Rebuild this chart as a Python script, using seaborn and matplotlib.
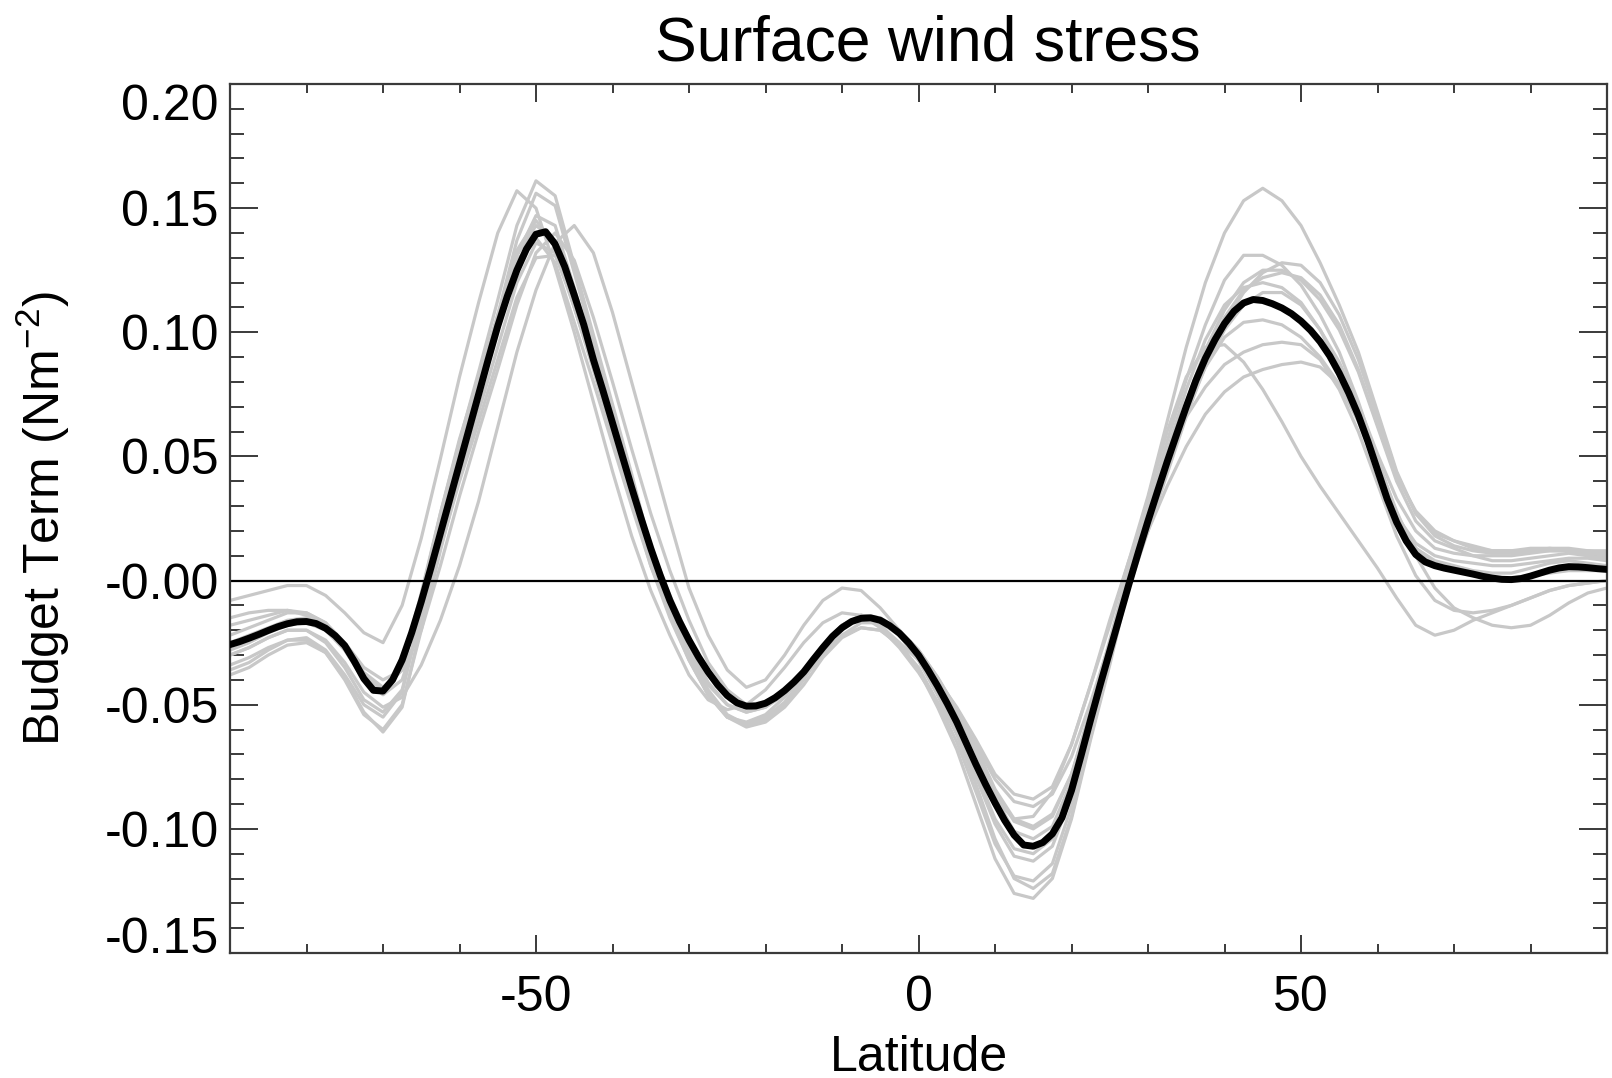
import numpy as np
import pandas as pd
import matplotlib
matplotlib.use("Agg")
import matplotlib.pyplot as plt
import seaborn as sns
from matplotlib.ticker import FixedLocator, FixedFormatter, MultipleLocator

# Latitude grids (degrees)
mean_latitude = np.arange(-90.0, 90.01, 1.25)
member_latitude = np.arange(-90.0, 90.01, 2.5)

# Ensemble-mean zonal-mean surface wind stress budget term (N m^-2)
ensemble_mean = [
    -.0258, -.0246, -.0232, -.0217, -.0201, -.0186, -.0174, -.0166, -.0165, -.0173,
    -.0192, -.0222, -.0262, -.0325, -.0395, -.0442, -.0445, -.0400, -.0320, -.0210,
    -.0085, .0050, .0190, .0330, .0470, .0610, .0750, .0890, .1025, .1145,
    .1250, .1335, .1395, .1405, .1355, .1265, .1150, .1030, .0890, .0765,
    .0635, .0505, .0375, .0250, .0130, .0020, -.0080, -.0165, -.0240, -.0308,
    -.0368, -.0420, -.0463, -.0492, -.0506, -.0505, -.0494, -.0472, -.0443, -.0408,
    -.0368, -.0318, -.0270, -.0225, -.0190, -.0165, -.0152, -.0150, -.0160, -.0182,
    -.0212, -.0252, -.0300, -.0360, -.0425, -.0495, -.0570, -.0655, -.0740, -.0820,
    -.0895, -.0965, -.1025, -.1065, -.1070, -.1055, -.1020, -.0955, -.0845, -.0705,
    -.0560, -.0420, -.0285, -.0150, -.0015, .0115, .0240, .0360, .0478, .0590,
    .0700, .0805, .0895, .0970, .1035, .1085, .1118, .1132, .1128, .1115,
    .1098, .1075, .1045, .1008, .0962, .0905, .0835, .0755, .0665, .0560,
    .0445, .0330, .0235, .0160, .0105, .0075, .0060, .0050, .0042, .0034,
    .0026, .0017, .0010, .0005, .0004, .0008, .0018, .0030, .0042, .0051,
    .0056, .0055, .0052, .0048, .0045,
]

# Individual ensemble members
member_01 = [
    -.036, -.033, -.028, -.024, -.023, -.028, -.038, -.050, -.055, -.045, -.012, .024,
    .056, .084, .113, .143, .161, .155, .127, .099, .071, .043, .013, -.010,
    -.029, -.044, -.054, -.058, -.056, -.050, -.040, -.028, -.019, -.014, -.016, -.022,
    -.032, -.046, -.062, -.082, -.104, -.120, -.124, -.118, -.095, -.063, -.033, .001,
    .029, .056, .081, .103, .121, .131, .131, .127, .119, .107, .092, .072,
    .049, .027, .013, .008, .006, .004, .003, .003, .005, .007, .008, .007, .006,
]
member_02 = [
    -.008, -.006, -.004, -.002, -.002, -.006, -.013, -.021, -.025, -.010, .017, .049,
    .082, .112, .140, .157, .150, .126, .100, .072, .044, .018, -.004, -.022,
    -.038, -.048, -.052, -.050, -.044, -.035, -.025, -.017, -.013, -.014, -.019, -.027,
    -.037, -.049, -.061, -.075, -.088, -.096, -.095, -.085, -.066, -.042, -.016, .008,
    .034, .064, .094, .120, .140, .153, .158, .153, .143, .128, .111, .092,
    .068, .044, .027, .018, .014, .012, .011, .011, .012, .012, .012, .011, .010,
]
member_03 = [
    -.030, -.027, -.023, -.020, -.020, -.025, -.035, -.048, -.053, -.044, -.014, .019,
    .050, .078, .107, .137, .156, .151, .124, .096, .068, .040, .011, -.012,
    -.031, -.046, -.055, -.057, -.054, -.047, -.037, -.026, -.018, -.015, -.018, -.025,
    -.036, -.051, -.068, -.090, -.112, -.126, -.128, -.120, -.096, -.064, -.034, -.002,
    .024, .048, .072, .093, .109, .120, .125, .125, .121, .113, .101, .084,
    .062, .040, .024, .016, .013, .010, .008, .008, .009, .010, .011, .010, .009,
]
member_04 = [
    -.022, -.019, -.016, -.013, -.013, -.017, -.026, -.038, -.044, -.036, -.008, .024,
    .053, .078, .104, .131, .147, .143, .118, .092, .066, .040, .013, -.008,
    -.026, -.041, -.050, -.053, -.051, -.045, -.036, -.026, -.018, -.014, -.016, -.022,
    -.032, -.046, -.061, -.079, -.098, -.111, -.113, -.107, -.087, -.059, -.031, -.002,
    .022, .046, .070, .090, .106, .117, .122, .124, .122, .115, .103, .085,
    .063, .042, .028, .020, .016, .014, .012, .012, .012, .013, .012, .012, .011,
]
member_05 = [
    -.030, -.027, -.023, -.020, -.020, -.024, -.033, -.045, -.051, -.047, -.034, -.016,
    .006, .032, .062, .092, .117, .136, .143, .132, .108, .080, .052, .024,
    -.003, -.022, -.036, -.043, -.040, -.030, -.018, -.008, -.003, -.004, -.011, -.020,
    -.030, -.040, -.051, -.064, -.078, -.086, -.088, -.083, -.066, -.042, -.018, .008,
    .030, .050, .066, .078, .087, .092, .095, .096, .095, .089, .077, .060,
    .039, .018, .002, -.008, -.012, -.013, -.012, -.010, -.007, -.004, -.002, -.001, .000,
]
member_06 = [
    -.034, -.031, -.027, -.024, -.024, -.029, -.040, -.054, -.060, -.050, -.020, .012,
    .042, .068, .094, .120, .136, .132, .110, .086, .060, .034, .008, -.014,
    -.032, -.046, -.055, -.059, -.057, -.051, -.042, -.031, -.023, -.019, -.020, -.026,
    -.035, -.049, -.065, -.085, -.106, -.119, -.121, -.114, -.091, -.061, -.032, -.001,
    .026, .052, .077, .097, .111, .118, .120, .118, .112, .101, .086, .067,
    .045, .026, .015, .010, .008, .007, .006, .006, .007, .008, .009, .009, .008,
]
member_07 = [
    -.028, -.025, -.021, -.018, -.017, -.020, -.028, -.040, -.046, -.040, -.016, .013,
    .040, .064, .089, .114, .130, .131, .112, .088, .063, .038, .013, -.007,
    -.024, -.038, -.047, -.051, -.049, -.044, -.036, -.026, -.018, -.014, -.015, -.020,
    -.028, -.039, -.052, -.067, -.084, -.096, -.099, -.094, -.078, -.052, -.024, .005,
    .033, .060, .082, .094, .095, .088, .077, .064, .050, .038, .027, .016,
    .005, -.007, -.018, -.022, -.020, -.016, -.013, -.010, -.007, -.004, -.002, -.001, .000,
]
member_08 = [
    -.038, -.035, -.030, -.026, -.025, -.029, -.039, -.053, -.061, -.051, -.018, .018,
    .050, .078, .106, .133, .145, .135, .110, .085, .058, .032, .006, -.015,
    -.032, -.046, -.055, -.058, -.055, -.049, -.039, -.029, -.022, -.019, -.020, -.025,
    -.032, -.042, -.054, -.066, -.080, -.089, -.091, -.086, -.071, -.049, -.025, .000,
    .020, .038, .054, .067, .076, .082, .085, .087, .088, .086, .079, .066,
    .048, .028, .010, -.003, -.011, -.015, -.018, -.019, -.018, -.014, -.009, -.005, -.003,
]
member_09 = [
    -.018, -.016, -.014, -.012, -.013, -.017, -.025, -.035, -.040, -.036, -.020, .006,
    .034, .060, .085, .111, .132, .140, .129, .106, .080, .053, .027, .004,
    -.016, -.033, -.044, -.050, -.050, -.046, -.039, -.030, -.022, -.017, -.017, -.022,
    -.031, -.044, -.059, -.077, -.096, -.108, -.110, -.104, -.085, -.058, -.030, -.002,
    .022, .045, .067, .086, .101, .111, .116, .116, .111, .101, .088, .071,
    .051, .033, .020, .013, .011, .010, .010, .010, .011, .012, .012, .011, .010,
]
member_10 = [
    -.025, -.022, -.019, -.016, -.015, -.018, -.026, -.037, -.043, -.036, -.006, .027,
    .056, .081, .106, .129, .138, .128, .104, .080, .055, .030, .006, -.013,
    -.029, -.042, -.050, -.053, -.051, -.046, -.037, -.027, -.019, -.015, -.016, -.021,
    -.029, -.040, -.053, -.068, -.085, -.097, -.100, -.095, -.078, -.053, -.027, .001,
    .025, .048, .069, .086, .098, .104, .105, .103, .098, .090, .079, .064,
    .045, .026, .013, .007, .004, .002, .001, .001, .002, .003, .004, .004, .004,
]
member_11 = [
    -.015, -.013, -.012, -.012, -.014, -.019, -.028, -.040, -.044, -.034, -.005, .027,
    .057, .082, .107, .131, .143, .137, .114, .090, .065, .040, .014, -.006,
    -.023, -.037, -.046, -.050, -.049, -.044, -.036, -.026, -.018, -.014, -.015, -.020,
    -.028, -.039, -.052, -.069, -.087, -.101, -.104, -.099, -.081, -.055, -.029, -.003,
    .020, .043, .066, .087, .104, .116, .124, .128, .127, .120, .107, .089,
    .066, .043, .027, .019, .016, .013, .012, .012, .013, .013, .013, .012, .012,
]

members = [member_01, member_02, member_03, member_04, member_05, member_06,
           member_07, member_08, member_09, member_10, member_11]

# Axis ticks and labels
x_major_ticks = [-50, 0, 50]
x_tick_labels = ["-50", "0", "50"]
y_major_ticks = [-0.15, -0.10, -0.05, 0.0, 0.05, 0.10, 0.15, 0.20]
y_tick_labels = ["-0.15", "-0.10", "-0.05", "-0.00", "0.05", "0.10", "0.15", "0.20"]

# Long-form tables for seaborn
df_members = pd.concat(
    [pd.DataFrame({"lat": member_latitude, "stress": vals, "member": f"m{i + 1:02d}"})
     for i, vals in enumerate(members)],
    ignore_index=True,
)
df_mean = pd.DataFrame({"lat": mean_latitude, "stress": ensemble_mean})

sns.set_style("ticks")
plt.rcParams["font.family"] = ["Liberation Sans", "DejaVu Sans"]
plt.rcParams["mathtext.fontset"] = "custom"
plt.rcParams["mathtext.rm"] = "Liberation Sans"
plt.rcParams["mathtext.it"] = "Liberation Sans:italic"
plt.rcParams["axes.unicode_minus"] = False
plt.rcParams["text.color"] = "black"
plt.rcParams["axes.labelcolor"] = "black"

fig = plt.figure(figsize=(16.12, 10.78), dpi=100)
ax = fig.add_axes([230 / 1612, 1 - 953 / 1078, 1377 / 1612, 869 / 1078])

sns.lineplot(data=df_members, x="lat", y="stress", units="member", estimator=None,
             color="#c8c8c8", linewidth=2.3, legend=False, ax=ax, zorder=2)
ax.axhline(0.0, color="black", linewidth=1.6, zorder=2.5)
sns.lineplot(data=df_mean, x="lat", y="stress", color="black", linewidth=5.0,
             ax=ax, zorder=3)

ax.set_xlim(-90, 90)
ax.set_ylim(-0.15, 0.20)

ax.xaxis.set_major_locator(FixedLocator(x_major_ticks))
ax.xaxis.set_major_formatter(FixedFormatter(x_tick_labels))
ax.xaxis.set_minor_locator(MultipleLocator(10))
ax.yaxis.set_major_locator(FixedLocator(y_major_ticks))
ax.yaxis.set_major_formatter(FixedFormatter(y_tick_labels))
ax.yaxis.set_minor_locator(MultipleLocator(0.01))

axis_color = "#3a3a3a"
for side in ax.spines.values():
    side.set_color(axis_color)
    side.set_linewidth(1.6)

ax.tick_params(which="both", direction="in", top=True, right=True,
               color=axis_color, width=1.4, labelsize=36, labelcolor="black")
ax.tick_params(axis="x", which="major", length=13, pad=16)
ax.tick_params(axis="x", which="minor", length=6.5)
ax.tick_params(axis="y", which="major", length=20, pad=8)
ax.tick_params(axis="y", which="minor", length=10)

# keep the end labels of the y axis inside the frame
yticks = ax.yaxis.get_major_ticks()
yticks[0].label1.set_va("baseline")
yticks[-1].label1.set_va("top")

ax.set_xlabel("Latitude", fontsize=36, color="black")
ax.set_ylabel("Budget Term (Nm$^{-2}$)", fontsize=36, color="black")
ax.xaxis.set_label_coords(0.5, -0.094)
ax.yaxis.set_label_coords(-0.115, 0.5)
ax.set_title("Surface wind stress", fontsize=45, pad=17, x=0.507, color="black")

fig.savefig("out.png", dpi=100)
